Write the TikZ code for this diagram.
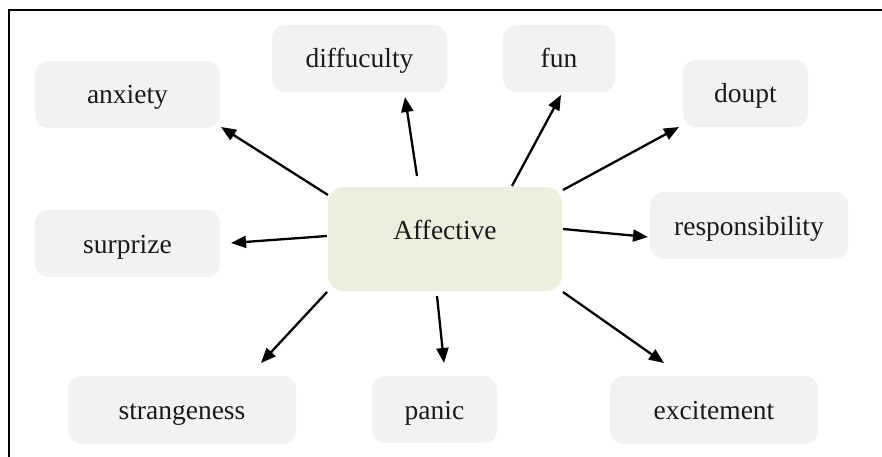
\documentclass[tikz,border=0pt]{standalone}
\usepackage{fontspec}
\setmainfont{Liberation Serif}
\usetikzlibrary{arrows.meta}
\definecolor{boxgray}{HTML}{F2F2F2}
\definecolor{affgreen}{HTML}{EBEFDE}
\definecolor{txt}{HTML}{1A1A1A}
\tikzset{
  leaf/.style={fill=boxgray, rounded corners=13pt, inner sep=0pt, text=txt,
    font=\fontsize{27.5}{32}\selectfont, text height=23pt, text depth=4pt},
  hub/.style={fill=affgreen, rounded corners=16pt, inner sep=0pt, text=txt,
    font=\fontsize{27.5}{32}\selectfont, text height=8pt, text depth=8pt},
  link/.style={line width=2.3pt, draw=black,
    -{Triangle[length=15pt,width=12pt]}},
  frame/.style={line width=1.8pt, draw=black}
}
\newcommand{\boxat}[7]{% name, style, x1, y1, x2, y2, text
  \node[#2, minimum width=#5pt-#3pt, minimum height=#6pt-#4pt]
    (#1) at ({(#3+#5)/2},{(#4+#6)/2}) {#7};}
\begin{document}
\begin{tikzpicture}[x=1pt,y=-1pt]
\useasboundingbox (0,0) rectangle (882,457);
\coordinate (fbl) at (9,460);
\coordinate (ftl) at (9,10);
\coordinate (ftr) at (885,10);
\draw[frame] (fbl) -- (ftl) -- (ftr);

\boxat{aff}{hub}{328}{187}{562}{291}{Affective}
\boxat{anx}{leaf}{35}{61}{220}{128}{anxiety}
\boxat{dif}{leaf}{272}{25}{447}{92}{diffuculty}
\boxat{fun}{leaf}{503}{25}{615}{92}{fun}
\boxat{dou}{leaf}{683}{60}{808}{127}{doupt}
\boxat{res}{leaf}{650}{192}{848}{259}{responsibility}
\boxat{sur}{leaf}{35}{210}{220}{277}{surprize}
\boxat{str}{leaf}{68}{376}{296}{444}{strangeness}
\boxat{pan}{leaf}{372}{376}{497}{443}{panic}
\boxat{exc}{leaf}{610}{376}{818}{444}{excitement}

\coordinate (s1) at (328,195);  \coordinate (e1) at (221,127);
\coordinate (s2) at (417,176);  \coordinate (e2) at (405,97);
\coordinate (s3) at (512,186);  \coordinate (e3) at (561,95);
\coordinate (s4) at (563,190);  \coordinate (e4) at (679,127);
\coordinate (s5) at (563,229);  \coordinate (e5) at (648,237);
\coordinate (s6) at (327,236);  \coordinate (e6) at (231,243);
\coordinate (s7) at (327,292);  \coordinate (e7) at (261,363);
\coordinate (s8) at (437,296);  \coordinate (e8) at (444,363);
\coordinate (s9) at (563,292);  \coordinate (e9) at (664,363);

\foreach \i in {1,...,9} \draw[link] (s\i) -- (e\i);
\end{tikzpicture}
\end{document}
